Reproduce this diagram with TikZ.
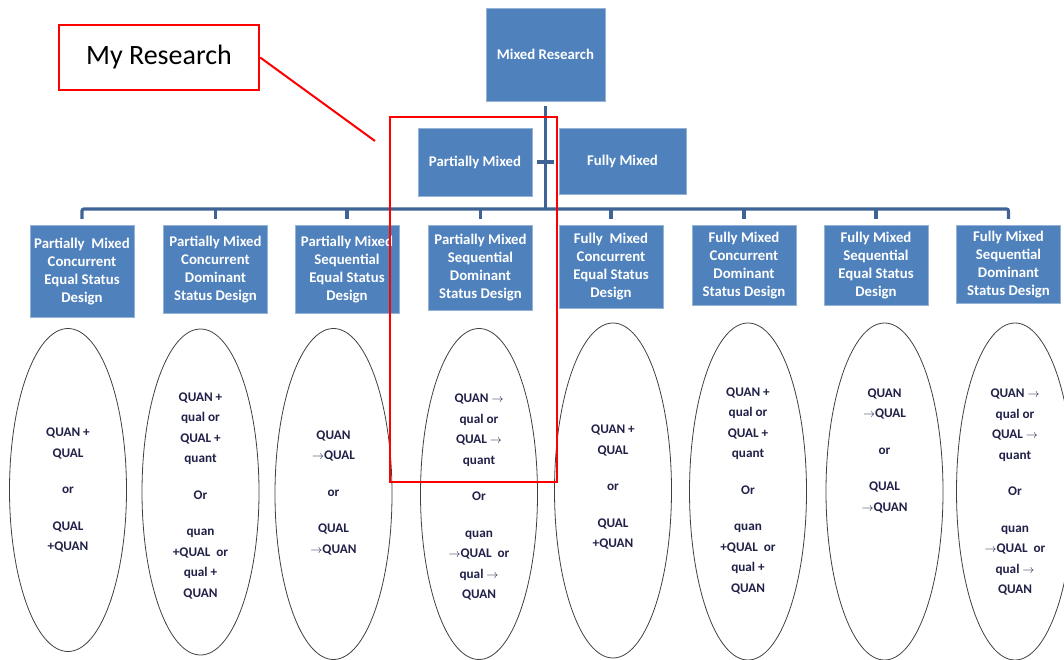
\documentclass[tikz,border=0pt]{standalone}
\usepackage{fontspec}
\setmainfont{Carlito}
\usetikzlibrary{shapes.geometric}
\definecolor{boxblue}{RGB}{79,129,189}
\definecolor{linkblue}{RGB}{62,100,150}
\definecolor{inkblue}{RGB}{32,32,72}
\newcommand\qto{$\rightarrow$}
\tikzset{
  design/.style={fill=boxblue, draw=boxblue!60!white, text=white, align=center,
    font=\bfseries\fontsize{14.8}{18}\selectfont, inner sep=0pt},
  link/.style={draw=linkblue, line width=3.2pt},
  option/.style={ellipse, draw=black!75, line width=0.8pt, minimum width=117pt, inner sep=0pt},
  choice/.style={align=center, text=inkblue, font=\bfseries\fontsize{13.2}{20.5}\selectfont},
  redmark/.style={draw=red, line width=2.4pt}
}

\begin{document}
\begin{tikzpicture}[x=1pt, y=-1pt]
  \useasboundingbox (0,0) rectangle (1064,660);

  % top levels
  \node[design, minimum width=119pt, minimum height=93pt] (mixed) at (545.5,54.5) {Mixed Research};
  \node[design, minimum width=114pt, minimum height=68pt] (partial) at (475,162) {Partially Mixed};
  \node[design, minimum width=127pt, minimum height=66pt] (fully) at (622.5,161) {Fully Mixed};

  % designs
  \foreach \i/\x/\h/\t in {
    1/82/92/{Partially~ Mixed\\Concurrent\\Equal Status\\Design},
    2/215.5/88/{Partially Mixed\\Concurrent\\Dominant\\Status Design},
    3/347/88/{Partially Mixed\\Sequential\\Equal Status\\Design},
    4/480.5/85/{Partially Mixed\\Sequential\\Dominant\\Status Design},
    5/611/83/{Fully~ Mixed\\Concurrent\\Equal Status\\Design},
    6/744/80/{Fully Mixed\\Concurrent\\Dominant\\Status Design},
    7/876/80/{Fully Mixed\\Sequential\\Equal Status\\Design},
    8/1008.5/78/{Fully Mixed\\Sequential\\Dominant\\Status Design}}
    \node[design, anchor=north, minimum width=104pt, minimum height=\h pt] (d\i) at (\x,225) {\t};

  % connectors
  \coordinate (bar) at (545.5,209);
  \draw[link] ([yshift=-5pt]mixed.south) -- (mixed.south |- bar);
  \draw[link] ([xshift=5pt]partial.east) -- ++(17,0);
  \draw[link, rounded corners=2pt] ([yshift=6pt]d1.north) -- (d1.north |- bar) -- (d8.north |- bar) -- ([yshift=6pt]d8.north);
  \foreach \i in {2,...,7}
    \draw[link] ([yshift=6pt]d\i.north) -- (d\i.north |- bar);

  % options
  \node[option, minimum height=323pt] (e1) at (68,490) {};
  \node[option, minimum height=326pt] (e2) at (200.5,492) {};
  \node[option, minimum height=331pt] (e3) at (333.5,494) {};
  \node[option, minimum height=331pt] (e4) at (479,494) {};
  \node[option, minimum height=335pt] (e5) at (613,490.5) {};
  \node[option, minimum height=337pt] (e6) at (748,491.5) {};
  \node[option, minimum height=337pt] (e7) at (884.5,491.5) {};
  \node[option, minimum height=337pt] (e8) at (1015,491.5) {};

  \node[choice] (t1) at (68,490) {QUAN +\\QUAL\\[16pt]or\\[16pt]QUAL\\+QUAN};
  \node[choice] (t2) at (200.5,495.5) {QUAN +\\qual or\\QUAL +\\quant\\[16pt]Or\\[16pt]quan\\+QUAL~ or\\qual +\\QUAN};
  \node[choice] (t3) at (333.5,492.5) {QUAN\\\qto QUAL\\[16pt]or\\[16pt]QUAL\\\qto QUAN};
  \node[choice] (t4) at (479,497) {QUAN \qto\\qual or\\QUAL \qto\\quant\\[16pt]Or\\[16pt]quan\\\qto QUAL~ or\\qual \qto\\QUAN};
  \node[choice] (t5) at (613,487) {QUAN +\\QUAL\\[16pt]or\\[16pt]QUAL\\+QUAN};
  \node[choice] (t6) at (748,490.5) {QUAN +\\qual or\\QUAL +\\quant\\[16pt]Or\\[16pt]quan\\+QUAL~ or\\qual +\\QUAN};
  \node[choice] (t7) at (884.5,450.5) {QUAN\\\qto QUAL\\[16pt]or\\[16pt]QUAL\\\qto QUAN};
  \node[choice] (t8) at (1015,492) {QUAN \qto\\qual or\\QUAL \qto\\quant\\[16pt]Or\\[16pt]quan\\\qto QUAL~ or\\qual \qto\\QUAN};

  % my research
  \node[redmark, fill=white, minimum width=200pt, minimum height=65pt, inner sep=0pt,
    font=\fontsize{28}{32}\selectfont] (mine) at (159,57.5) {My Research};
  \node[redmark, minimum width=167pt, minimum height=365pt, inner sep=0pt] (focus) at (473.5,299.5) {};
  \coordinate (tip) at (375,141);
  \draw[red, line width=2pt] (mine.east) -- (tip);
\end{tikzpicture}
\end{document}
